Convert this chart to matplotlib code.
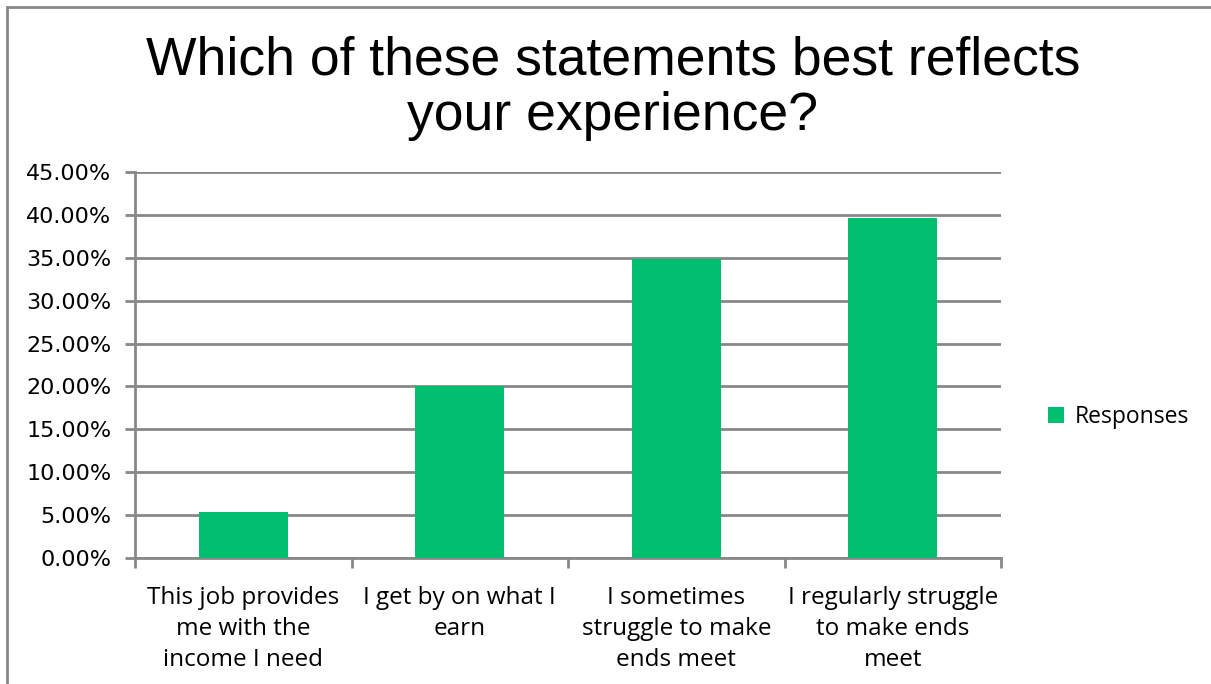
import matplotlib.pyplot as plt
from matplotlib.patches import Rectangle
from matplotlib.ticker import PercentFormatter

categories = [
    "This job provides\nme with the\nincome I need",
    "I get by on what I\nearn",
    "I sometimes\nstruggle to make\nends meet",
    "I regularly struggle\nto make ends\nmeet",
]
responses = [5.4, 20.0, 34.9, 39.6]
yticks = [0, 5, 10, 15, 20, 25, 30, 35, 40, 45]

green = "#00BF6F"
grid_gray = "#888888"

fig = plt.figure(figsize=(12.11, 6.84), dpi=100)
ax = fig.add_axes([0.1115, 0.1842, 0.7151, 0.5643])

x = range(len(categories))
ax.bar(x, responses, width=0.41, color=green, label="Responses", zorder=3)

ax.set_xlim(-0.5, len(categories) - 0.5)
ax.set_ylim(0, 45)
ax.set_yticks(yticks)
ax.yaxis.set_major_formatter(PercentFormatter(decimals=2))
ax.grid(axis="y", color=grid_gray, linewidth=2, zorder=0)

# category ticks sit on the boundaries between bars
ax.set_xticks([i - 0.5 for i in range(len(categories) + 1)], minor=False)
ax.set_xticklabels([])
ax.set_xticks(list(x), minor=True)
ax.set_xticklabels(categories, minor=True, fontsize=17.5, family="Open Sans",
                   linespacing=1.4)
ax.tick_params(axis="x", which="minor", length=0, pad=20)
ax.tick_params(axis="x", which="major", length=7, width=2, color=grid_gray)
ax.tick_params(axis="y", length=7, width=2, color=grid_gray, labelsize=16, pad=10)
for lbl in ax.get_yticklabels():
    lbl.set_family("DejaVu Sans")

for side in ["top", "right"]:
    ax.spines[side].set_visible(False)
for side in ["left", "bottom"]:
    ax.spines[side].set_color(grid_gray)
    ax.spines[side].set_linewidth(2)

fig.text(0.506, 0.871, "Which of these statements best reflects\nyour experience?",
         ha="center", va="center", fontsize=38.5, family="Liberation Sans",
         linespacing=1.12)

ax.legend(loc="center left", bbox_to_anchor=(1.03, 0.365), frameon=False,
          prop={"family": "Open Sans", "size": 16.5}, handlelength=0.7,
          handleheight=0.7, handletextpad=0.5)

# outer chart frame
fig.patches.append(Rectangle((7 / 1211, -0.1), 1.2, 1.1 - 7 / 684,
                             transform=fig.transFigure, fill=False,
                             edgecolor=grid_gray, linewidth=2))

fig.savefig("out.png", dpi=100)
